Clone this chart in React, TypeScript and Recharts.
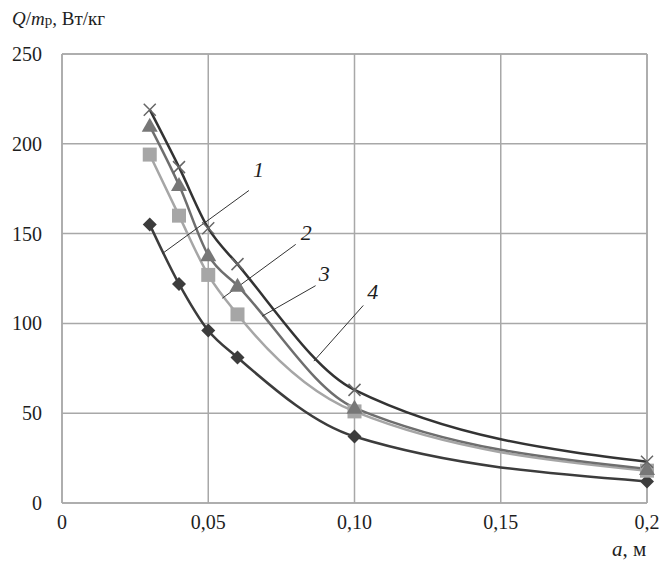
import React from 'react'
import {
  CartesianGrid,
  Line,
  LineChart,
  ReferenceDot,
  ReferenceLine,
  XAxis,
  YAxis,
} from 'recharts'

// a, m
const aValues = [0.03, 0.04, 0.05, 0.06, 0.1, 0.2]
// Q/m_p, W/kg for curves 1..4
const q1 = [155, 122, 96, 81, 37, 12]
const q2 = [194, 160, 127, 105, 51, 18]
const q3 = [210, 177, 138, 121, 53, 19]
const q4 = [219, 187, 153, 133, 63, 23]

const xTicks = [0, 0.05, 0.1, 0.15, 0.2]
const xTickLabels = ['0', '0,05', '0,10', '0,15', '0,2']
const yTicks = [0, 50, 100, 150, 200, 250]

// curve number labels with leader lines (data coords)
const curveLabels = [
  { name: '1', from: [0.0344, 139], to: [0.0639, 174], at: [0.0672, 186] },
  { name: '2', from: [0.0548, 114], to: [0.0799, 144], at: [0.0835, 151] },
  { name: '3', from: [0.0684, 104], to: [0.0867, 121], at: [0.0897, 128] },
  { name: '4', from: [0.0861, 79], to: [0.103, 110], at: [0.1062, 118] },
]

const data = aValues.map((a, i) => ({ a, s1: q1[i], s2: q2[i], s3: q3[i], s4: q4[i] }))

const serif = '"Liberation Serif", "DejaVu Serif", serif'
const textColor = '#1e1e1e'
const gridColor = '#a8a8a8'

const XTick = (props: any) => {
  const { x, y, payload } = props
  const i = xTicks.indexOf(payload.value)
  const label = i >= 0 ? xTickLabels[i] : String(payload.value)
  return (
    <text x={x} y={y + 20} textAnchor="middle" fill={textColor} fontSize={20} fontFamily={serif}>
      {label}
    </text>
  )
}

const YTick = (props: any) => {
  const { x, y, payload } = props
  return (
    <text x={x - 4} y={y + 7} textAnchor="end" fill={textColor} fontSize={20} fontFamily={serif}>
      {payload.value}
    </text>
  )
}

const Diamond = (props: any) => {
  const { cx, cy } = props
  if (cx == null || cy == null) return null
  const r = 7
  return (
    <path
      d={`M${cx},${cy - r}L${cx + r},${cy}L${cx},${cy + r}L${cx - r},${cy}Z`}
      fill="#3c3c3c"
    />
  )
}

const Square = (props: any) => {
  const { cx, cy } = props
  if (cx == null || cy == null) return null
  const r = 7
  return <rect x={cx - r} y={cy - r} width={r * 2} height={r * 2} fill="#a6a6a6" />
}

const Triangle = (props: any) => {
  const { cx, cy } = props
  if (cx == null || cy == null) return null
  const r = 8
  return (
    <path
      d={`M${cx},${cy - r}L${cx + r},${cy + r * 0.75}L${cx - r},${cy + r * 0.75}Z`}
      fill="#777777"
    />
  )
}

const Cross = (props: any) => {
  const { cx, cy } = props
  if (cx == null || cy == null) return null
  const r = 6
  return (
    <path
      d={`M${cx - r},${cy - r}L${cx + r},${cy + r}M${cx - r},${cy + r}L${cx + r},${cy - r}`}
      stroke="#666"
      strokeWidth={1.5}
    />
  )
}

const App: React.FC = () => {
  return (
    <div
      style={{
        position: 'absolute',
        left: 0,
        top: 0,
        width: 659,
        height: 565,
        background: '#fff',
        fontFamily: serif,
      }}
    >
      <div style={{ position: 'absolute', left: 12, top: 8, fontSize: 19, color: textColor }}>
        <i>Q</i>/<i>m</i>
        <span style={{ fontSize: 15 }}>р</span>, Вт/кг
      </div>
      <div style={{ position: 'absolute', left: 612, top: 537, fontSize: 21, color: textColor }}>
        <i>a</i>, м
      </div>
      <LineChart
        width={659}
        height={565}
        data={data}
        margin={{ top: 54, right: 12, bottom: 0, left: 0 }}
      >
        <CartesianGrid stroke={gridColor} strokeWidth={1.5} />
        <XAxis
          dataKey="a"
          type="number"
          domain={[0, 0.2]}
          ticks={xTicks}
          tick={<XTick />}
          tickLine={false}
          axisLine={{ stroke: gridColor, strokeWidth: 1.5 }}
          tickMargin={0}
          height={62}
          interval={0}
        />
        <YAxis
          type="number"
          domain={[0, 250]}
          ticks={yTicks}
          tick={<YTick />}
          tickLine={false}
          axisLine={{ stroke: gridColor, strokeWidth: 1.5 }}
          tickMargin={10}
          width={62}
          interval={0}
        />
        <ReferenceLine x={0.2} stroke={gridColor} strokeWidth={1.5} />
        <ReferenceLine y={250} stroke={gridColor} strokeWidth={1.5} />
        <Line
          dataKey="s1"
          type="monotone"
          stroke="#3c3c3c"
          strokeWidth={2.5}
          dot={<Diamond />}
          isAnimationActive={false}
        />
        <Line
          dataKey="s2"
          type="monotone"
          stroke="#a6a6a6"
          strokeWidth={2.5}
          dot={<Square />}
          isAnimationActive={false}
        />
        <Line
          dataKey="s3"
          type="monotone"
          stroke="#6e6e6e"
          strokeWidth={2.5}
          dot={<Triangle />}
          isAnimationActive={false}
        />
        <Line
          dataKey="s4"
          type="monotone"
          stroke="#333333"
          strokeWidth={2.5}
          dot={<Cross />}
          isAnimationActive={false}
        />
        {curveLabels.map((c) => (
          <ReferenceLine
            key={'l' + c.name}
            segment={[
              { x: c.from[0], y: c.from[1] },
              { x: c.to[0], y: c.to[1] },
            ]}
            stroke="#333"
            strokeWidth={1}
          />
        ))}
        {curveLabels.map((c) => (
          <ReferenceDot
            key={'d' + c.name}
            x={c.at[0]}
            y={c.at[1]}
            r={0}
            fill="none"
            stroke="none"
            label={{
              value: c.name,
              position: 'center',
              fill: textColor,
              fontSize: 22,
              fontStyle: 'italic',
              fontFamily: serif,
            }}
          />
        ))}
      </LineChart>
    </div>
  )
}

export default App
